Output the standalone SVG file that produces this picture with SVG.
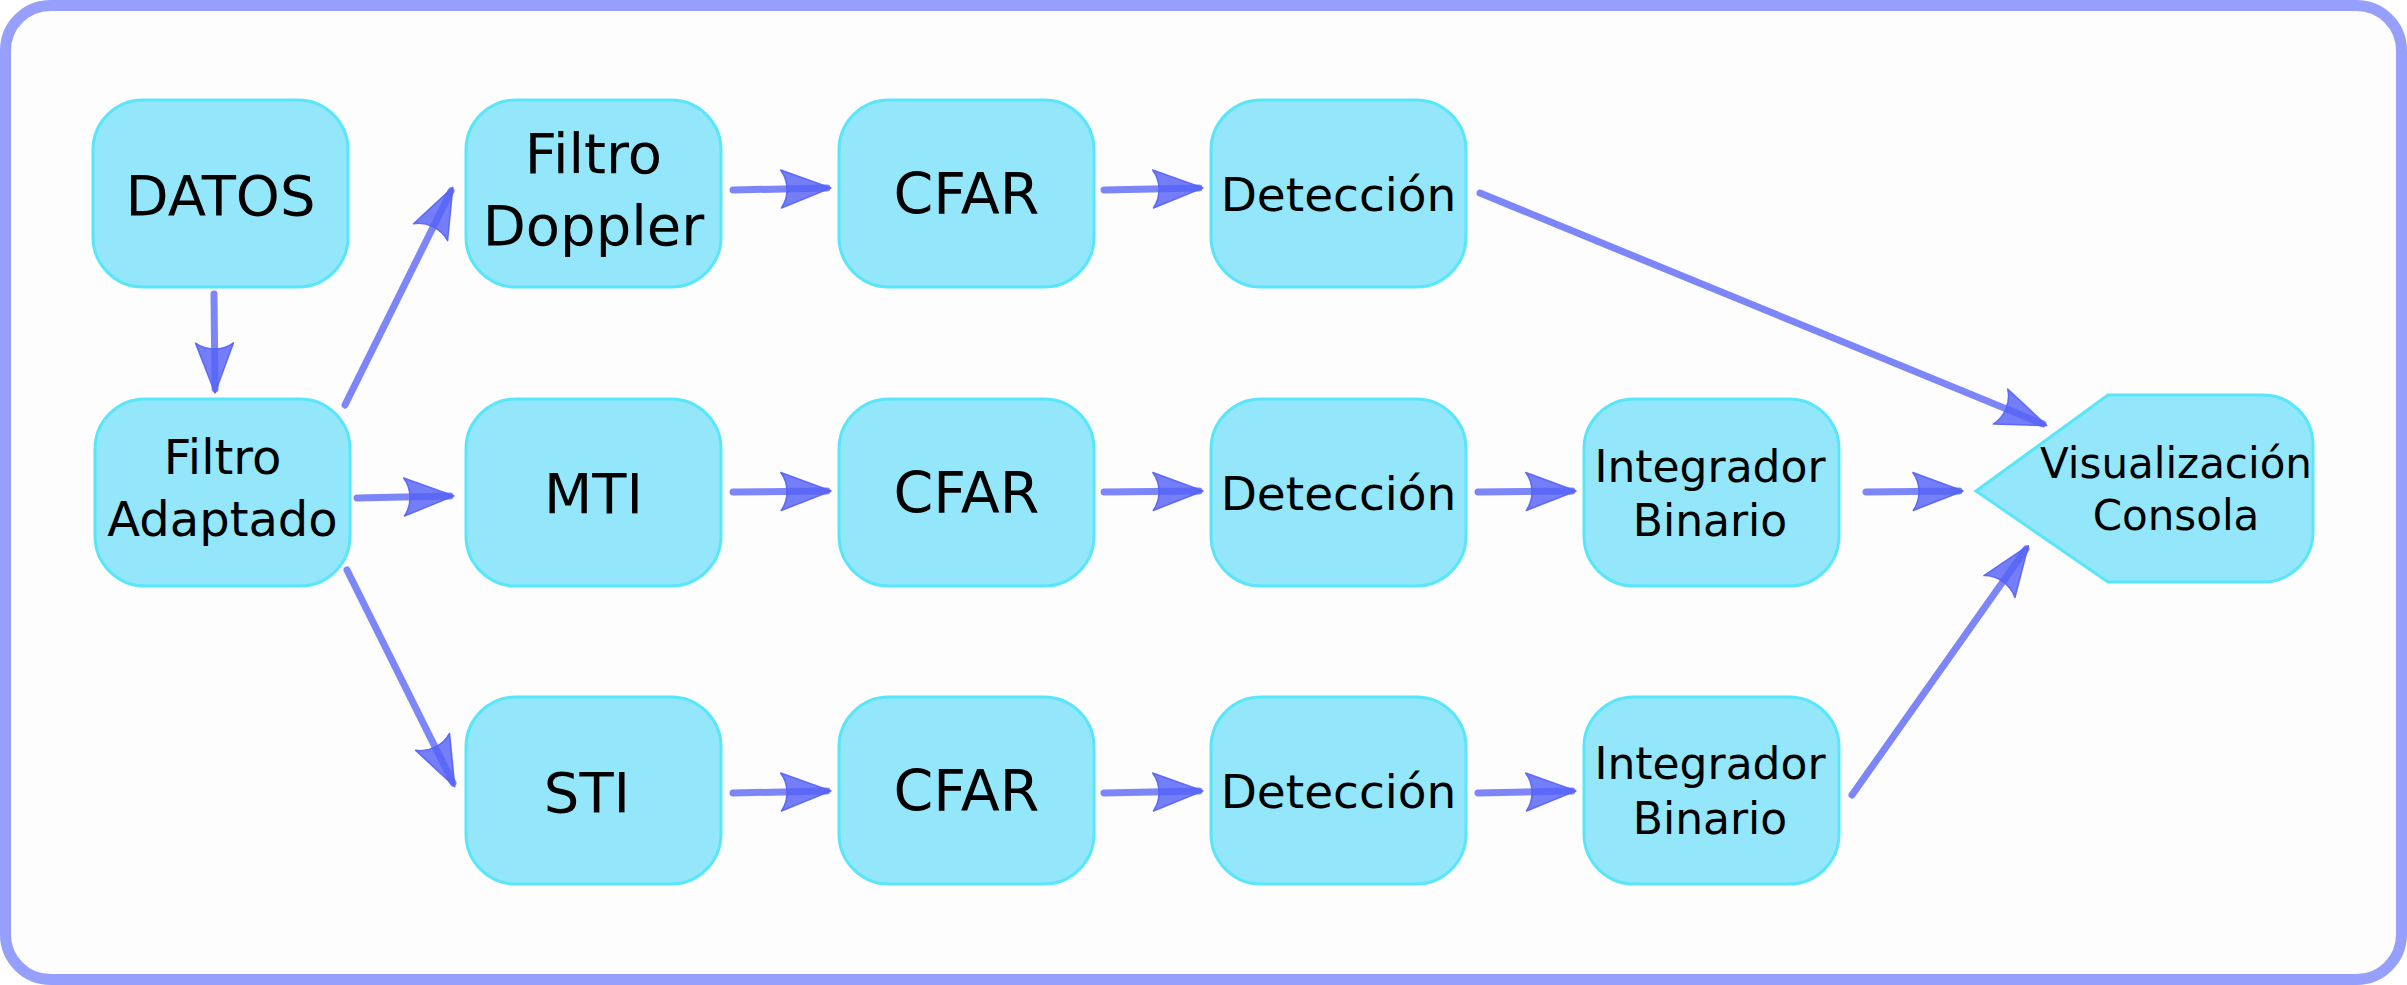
<svg xmlns="http://www.w3.org/2000/svg" width="2407" height="985" viewBox="0 0 2407 985">
<style>
.node{fill:#94e6fa;stroke:#58e6fa;stroke-width:3}
.lbl{font-family:"DejaVu Sans","Liberation Sans",sans-serif;fill:#000;text-anchor:middle}
.c{fill:none;stroke:#5c68f8;stroke-opacity:0.8;stroke-width:7;stroke-linecap:round}
</style>
<defs>
<marker id="ah" markerUnits="userSpaceOnUse" viewBox="-50 -25 65 50" markerWidth="65" markerHeight="50" refX="0" refY="0" orient="auto" overflow="visible">
<path d="M 4 0 L -46 -19 C -38 -8 -38 8 -46 19 Z" fill="#5562f7" fill-opacity="0.82" stroke="#5562f7" stroke-opacity="0.9" stroke-width="1.5" stroke-linejoin="round"/>
</marker>
</defs>
<rect x="5.5" y="5.5" width="2396" height="974" rx="45" ry="45" fill="#fdfdfd" stroke="#96a0fc" stroke-width="11"/>
<g id="connectors">
<path class="c" d="M 214 294 L 215 389" marker-end="url(#ah)"/>
<path class="c" d="M 345 405 L 451 191" marker-end="url(#ah)"/>
<path class="c" d="M 357 498 L 450 496" marker-end="url(#ah)"/>
<path class="c" d="M 347 570 L 453 783" marker-end="url(#ah)"/>
<path class="c" d="M 733 190 L 827 188" marker-end="url(#ah)"/>
<path class="c" d="M 1104 190 L 1199 188" marker-end="url(#ah)"/>
<path class="c" d="M 733 492 L 827 491" marker-end="url(#ah)"/>
<path class="c" d="M 1104 492 L 1199 491" marker-end="url(#ah)"/>
<path class="c" d="M 1478 492 L 1572 491" marker-end="url(#ah)"/>
<path class="c" d="M 1866 492 L 1959 491" marker-end="url(#ah)"/>
<path class="c" d="M 733 793 L 827 791" marker-end="url(#ah)"/>
<path class="c" d="M 1104 793 L 1199 791" marker-end="url(#ah)"/>
<path class="c" d="M 1478 793 L 1572 791" marker-end="url(#ah)"/>
<path class="c" d="M 1480 193 L 2043 424" marker-end="url(#ah)"/>
<path class="c" d="M 1852 795 L 2026 549" marker-end="url(#ah)"/>
</g>
<g id="datos"><rect class="node" x="93" y="100" width="255" height="187" rx="50" ry="50"/><text class="lbl" x="220.5" y="215" font-size="56">DATOS</text></g>
<g id="filtro-adaptado"><rect class="node" x="95" y="399" width="255" height="187" rx="50" ry="50"/><text class="lbl" x="222.5" y="474" font-size="48">Filtro</text><text class="lbl" x="222.5" y="536" font-size="48">Adaptado</text></g>
<g id="filtro-doppler"><rect class="node" x="466" y="100" width="255" height="187" rx="50" ry="50"/><text class="lbl" x="593.5" y="173" font-size="56">Filtro</text><text class="lbl" x="593.5" y="245" font-size="56">Doppler</text></g>
<g id="mti"><rect class="node" x="466" y="399" width="255" height="187" rx="50" ry="50"/><text class="lbl" x="593.5" y="513" font-size="56">MTI</text></g>
<g id="sti"><rect class="node" x="466" y="697" width="255" height="187" rx="50" ry="50"/><text class="lbl" x="587" y="812" font-size="56">STI</text></g>
<g id="cfar1"><rect class="node" x="839" y="100" width="255" height="187" rx="50" ry="50"/><text class="lbl" x="966.5" y="214" font-size="57">CFAR</text></g>
<g id="cfar2"><rect class="node" x="839" y="399" width="255" height="187" rx="50" ry="50"/><text class="lbl" x="966.5" y="513" font-size="57">CFAR</text></g>
<g id="cfar3"><rect class="node" x="839" y="697" width="255" height="187" rx="50" ry="50"/><text class="lbl" x="966.5" y="811" font-size="57">CFAR</text></g>
<g id="deteccion1"><rect class="node" x="1211" y="100" width="255" height="187" rx="50" ry="50"/><text class="lbl" x="1338.5" y="211" font-size="47">Detección</text></g>
<g id="deteccion2"><rect class="node" x="1211" y="399" width="255" height="187" rx="50" ry="50"/><text class="lbl" x="1338.5" y="510" font-size="47">Detección</text></g>
<g id="deteccion3"><rect class="node" x="1211" y="697" width="255" height="187" rx="50" ry="50"/><text class="lbl" x="1338.5" y="808" font-size="47">Detección</text></g>
<g id="integrador2"><rect class="node" x="1584" y="399" width="255" height="187" rx="50" ry="50"/><text class="lbl" x="1710" y="482" font-size="44">Integrador</text><text class="lbl" x="1710" y="536" font-size="44">Binario</text></g>
<g id="integrador3"><rect class="node" x="1584" y="697" width="255" height="187" rx="50" ry="50"/><text class="lbl" x="1710" y="779" font-size="44">Integrador</text><text class="lbl" x="1710" y="834" font-size="44">Binario</text></g>
<g id="visualizacion"><path class="node" d="M 1976 491 L 2108 395 L 2263 395 A 50 50 0 0 1 2313 445 L 2313 532 A 50 50 0 0 1 2263 582 L 2108 582 Z"/><text class="lbl" x="2176" y="478" font-size="42">Visualización</text><text class="lbl" x="2176" y="530" font-size="42">Consola</text></g>
</svg>
